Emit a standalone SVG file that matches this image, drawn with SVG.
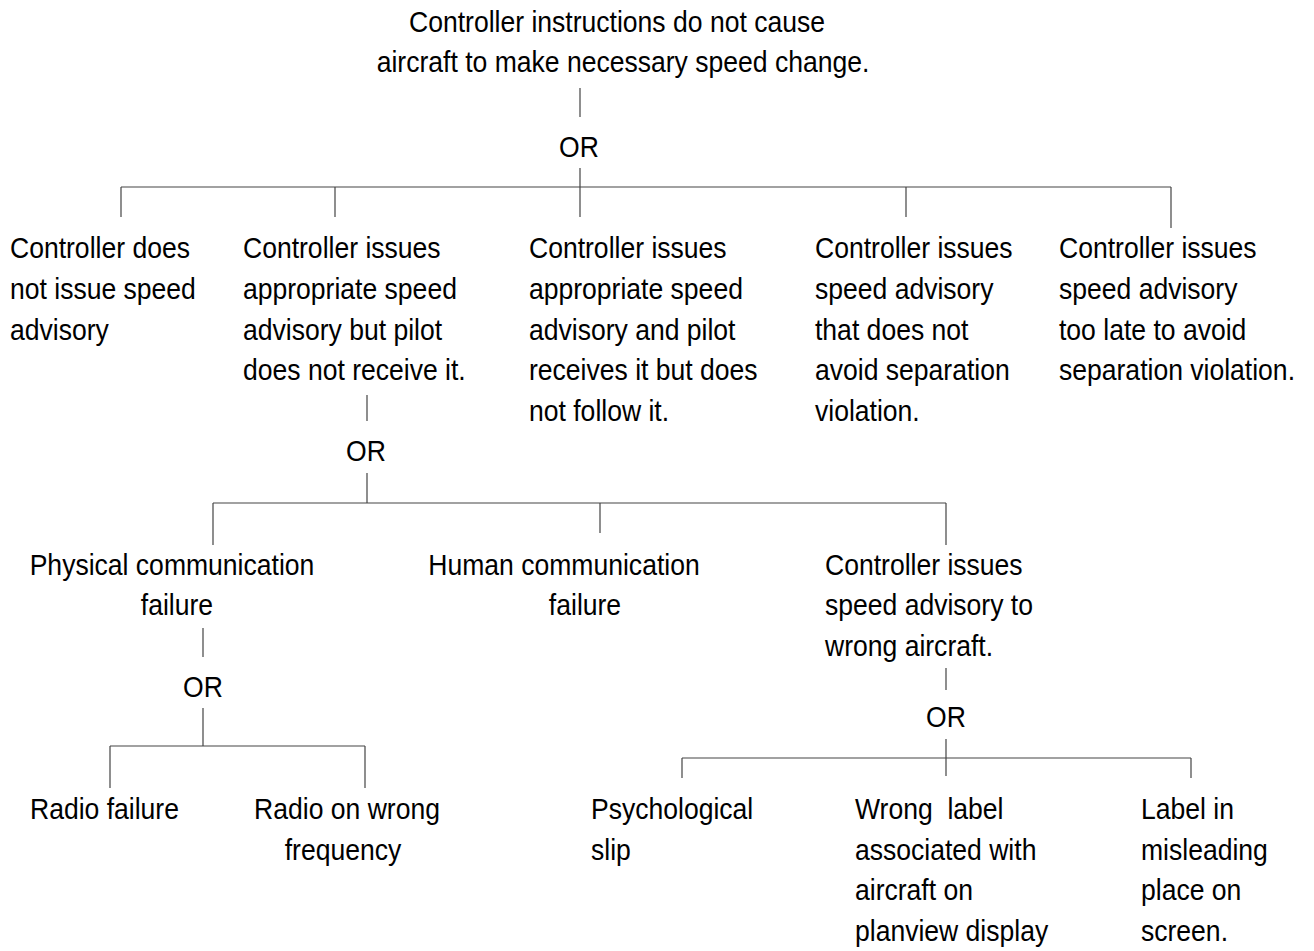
<svg xmlns="http://www.w3.org/2000/svg" width="1314" height="951" viewBox="0 0 1314 951">
  <style>
    text { font-family: "Liberation Sans", Arial, sans-serif; font-size: 29.5px; fill: #000; }
    .c { text-anchor: middle; }
    .edge line { stroke: #444; stroke-width: 1.2; fill: none; }
  </style>
  <rect width="1314" height="951" fill="#fff"/>

  <!-- connectors -->
  <g id="connectors" class="edge">
    <line x1="580" y1="88" x2="580" y2="117"/>
    <line x1="580" y1="168" x2="580" y2="217"/>
    <line x1="121" y1="187" x2="1171" y2="187"/>
    <line x1="121" y1="187" x2="121" y2="217"/>
    <line x1="335" y1="187" x2="335" y2="217"/>
    <line x1="906" y1="187" x2="906" y2="217"/>
    <line x1="1171" y1="187" x2="1171" y2="228"/>

    <line x1="367" y1="395" x2="367" y2="421"/>
    <line x1="367" y1="473" x2="367" y2="503"/>
    <line x1="213" y1="503" x2="946" y2="503"/>
    <line x1="213" y1="503" x2="213" y2="545"/>
    <line x1="600" y1="503" x2="600" y2="533"/>
    <line x1="946" y1="503" x2="946" y2="545"/>

    <line x1="203" y1="628" x2="203" y2="657"/>
    <line x1="203" y1="708" x2="203" y2="746"/>
    <line x1="110" y1="746" x2="365" y2="746"/>
    <line x1="110" y1="746" x2="110" y2="788"/>
    <line x1="365" y1="746" x2="365" y2="788"/>

    <line x1="946" y1="668" x2="946" y2="690"/>
    <line x1="946" y1="739" x2="946" y2="776"/>
    <line x1="682" y1="758" x2="1191" y2="758"/>
    <line x1="682" y1="758" x2="682" y2="778"/>
    <line x1="1191" y1="758" x2="1191" y2="778"/>
  </g>

  <!-- OR gates (text narrowed about their centre) -->
  <g id="gates">
    <g transform="matrix(0.9 0 0 1 57.9 0)"><text class="c" x="579" y="157">OR</text></g>
    <g transform="matrix(0.9 0 0 1 36.6 0)"><text class="c" x="366" y="461">OR</text></g>
    <g transform="matrix(0.9 0 0 1 20.3 0)"><text class="c" x="203" y="697">OR</text></g>
    <g transform="matrix(0.9 0 0 1 94.6 0)"><text class="c" x="946" y="727">OR</text></g>
  </g>

  <!-- top event -->
  <g id="top">
    <g transform="matrix(0.9 0 0 1 61.7 0)"><text class="c" x="617" y="32">Controller instructions do not cause</text></g>
    <g transform="matrix(0.9 0 0 1 62.3 0)"><text class="c" x="623" y="72">aircraft to make necessary speed change.</text></g>
  </g>

  <!-- first level -->
  <g id="no-advisory" transform="matrix(0.9 0 0 1 1 0)">
    <text x="10" y="258">Controller does</text>
    <text x="10" y="299">not issue speed</text>
    <text x="10" y="340">advisory</text>
  </g>
  <g id="not-received" transform="matrix(0.9 0 0 1 24.3 0)">
    <text x="243" y="258">Controller issues</text>
    <text x="243" y="299">appropriate speed</text>
    <text x="243" y="340">advisory but pilot</text>
    <text x="243" y="380">does not receive it.</text>
  </g>
  <g id="not-followed" transform="matrix(0.9 0 0 1 52.9 0)">
    <text x="529" y="258">Controller issues</text>
    <text x="529" y="299">appropriate speed</text>
    <text x="529" y="340">advisory and pilot</text>
    <text x="529" y="380">receives it but does</text>
    <text x="529" y="421">not follow it.</text>
  </g>
  <g id="inadequate" transform="matrix(0.9 0 0 1 81.5 0)">
    <text x="815" y="258">Controller issues</text>
    <text x="815" y="299">speed advisory</text>
    <text x="815" y="340">that does not</text>
    <text x="815" y="380">avoid separation</text>
    <text x="815" y="421">violation.</text>
  </g>
  <g id="too-late" transform="matrix(0.9 0 0 1 105.9 0)">
    <text x="1059" y="258">Controller issues</text>
    <text x="1059" y="299">speed advisory</text>
    <text x="1059" y="340">too late to avoid</text>
    <text x="1059" y="380">separation violation.</text>
  </g>

  <!-- second level -->
  <g id="physical-failure">
    <g transform="matrix(0.9 0 0 1 17.2 0)"><text class="c" x="172" y="575">Physical communication</text></g>
    <g transform="matrix(0.9 0 0 1 17.7 0)"><text class="c" x="177" y="615">failure</text></g>
  </g>
  <g id="human-failure">
    <g transform="matrix(0.9 0 0 1 56.4 0)"><text class="c" x="564" y="575">Human communication</text></g>
    <g transform="matrix(0.9 0 0 1 58.5 0)"><text class="c" x="585" y="615">failure</text></g>
  </g>
  <g id="wrong-aircraft" transform="matrix(0.9 0 0 1 82.5 0)">
    <text x="825" y="575">Controller issues</text>
    <text x="825" y="615">speed advisory to</text>
    <text x="825" y="656">wrong aircraft.</text>
  </g>

  <!-- third level -->
  <g id="radio-failure" transform="matrix(0.9 0 0 1 3 0)">
    <text x="30" y="819">Radio failure</text>
  </g>
  <g id="wrong-frequency">
    <g transform="matrix(0.9 0 0 1 34.7 0)"><text class="c" x="347" y="819">Radio on wrong</text></g>
    <g transform="matrix(0.9 0 0 1 34.3 0)"><text class="c" x="343" y="860">frequency</text></g>
  </g>
  <g id="slip" transform="matrix(0.9 0 0 1 59.1 0)">
    <text x="591" y="819">Psychological</text>
    <text x="591" y="860">slip</text>
  </g>
  <g id="wrong-label" transform="matrix(0.9 0 0 1 85.5 0)">
    <text x="855" y="819" xml:space="preserve">Wrong  label</text>
    <text x="855" y="860">associated with</text>
    <text x="855" y="900">aircraft on</text>
    <text x="855" y="941">planview display</text>
  </g>
  <g id="misplaced-label" transform="matrix(0.9 0 0 1 114.1 0)">
    <text x="1141" y="819">Label in</text>
    <text x="1141" y="860">misleading</text>
    <text x="1141" y="900">place on</text>
    <text x="1141" y="941">screen.</text>
  </g>
</svg>
